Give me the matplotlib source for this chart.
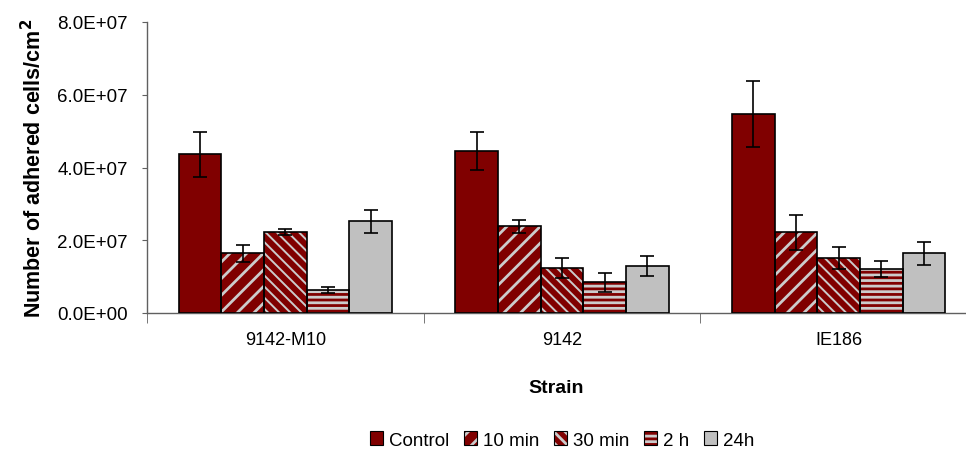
import matplotlib
matplotlib.use("Agg")
import matplotlib.pyplot as plt
import numpy as np
from matplotlib.patches import Patch

plt.rcParams['font.family'] = ['Liberation Sans', 'DejaVu Sans']
plt.rcParams['hatch.linewidth'] = 2.0

strains = ["9142-M10", "9142", "IE186"]
series = ["Control", "10 min", "30 min", "2 h", "24h"]
values = {
    "Control": [4.36e7, 4.45e7, 5.47e7],
    "10 min": [1.64e7, 2.39e7, 2.22e7],
    "30 min": [2.22e7, 1.24e7, 1.51e7],
    "2 h": [0.64e7, 0.85e7, 1.20e7],
    "24h": [2.52e7, 1.29e7, 1.64e7],
}
errors = {
    "Control": [0.62e7, 0.53e7, 0.91e7],
    "10 min": [0.23e7, 0.18e7, 0.48e7],
    "30 min": [0.08e7, 0.28e7, 0.31e7],
    "2 h": [0.08e7, 0.26e7, 0.22e7],
    "24h": [0.31e7, 0.27e7, 0.31e7],
}
yticks = [0, 2e7, 4e7, 6e7, 8e7]
ytick_labels = ["0.0E+00", "2.0E+07", "4.0E+07", "6.0E+07", "8.0E+07"]

dark = "#800000"
gray = "#C0C0C0"
styles = {
    "Control": (dark, None, 0),
    "10 min": (dark, "//", 2.0),
    "30 min": (dark, "\\\\\\", 1.4),
    "2 h": (dark, "---", 2.0),
    "24h": (gray, None, 0),
}

fig = plt.figure(figsize=(9.66, 4.56), dpi=100)
ax = fig.add_axes([147/966, 1-314/456, 1-147/966, (314-23)/456])

x = np.arange(len(strains))
n = len(series)
group_w = 0.77
w = group_w / n
for i, s in enumerate(series):
    pos = x - group_w/2 + w*(i+0.5)
    fc, hatch, hlw = styles[s]
    if hatch:
        bars = ax.bar(pos, values[s], w, color=fc, edgecolor="#CCCCCC", hatch=hatch, linewidth=0, zorder=2)
        for b in bars:
            if hasattr(b, "set_hatch_linewidth"):
                b.set_hatch_linewidth(hlw)
    else:
        ax.bar(pos, values[s], w, color=fc, linewidth=0, zorder=2)
    ax.bar(pos, values[s], w, fill=False, edgecolor="black", linewidth=1.2, zorder=3)
    ax.errorbar(pos, values[s], yerr=errors[s], fmt="none", ecolor="black",
                elinewidth=1.2, capsize=5, capthick=1.2, zorder=4)

ax.set_ylim(0, 8e7)
ax.set_xlim(-0.5, 2.5 - 11/276.5)
ax.set_yticks(yticks)
ax.set_yticklabels(ytick_labels, fontsize=13.5)
ax.tick_params(axis='y', length=3.6, color="#606060", pad=10)
ax.set_xticks(x)
ax.set_xticklabels(strains, fontsize=13)
ax.tick_params(axis='x', which='major', length=0, pad=13)
ax.set_xticks([-0.5, 0.5, 1.5], minor=True)
ax.tick_params(axis='x', which='minor', length=7, color="#606060")
for sp in ["top", "right"]:
    ax.spines[sp].set_visible(False)
for sp in ["left", "bottom"]:
    ax.spines[sp].set_color("#606060")
    ax.spines[sp].set_linewidth(1.0)

ax.set_ylabel("Number of adhered cells/cm$^\\mathbf{2}$", fontsize=15.5, fontweight="bold", labelpad=8)
ax.set_xlabel("Strain", fontsize=14, fontweight="bold", labelpad=22)

handles = []
for s in series:
    fc, hatch, hlw = styles[s]
    if hatch:
        hp = Patch(facecolor=fc, edgecolor="#CCCCCC", hatch=hatch, linewidth=0)
        if hasattr(hp, "set_hatch_linewidth"):
            hp.set_hatch_linewidth(1.2)
        op = Patch(fill=False, edgecolor="black", linewidth=0.8)
        handles.append((hp, op))
    else:
        handles.append(Patch(facecolor=fc, edgecolor="black", linewidth=0.8))
fig.legend(handles, series, loc="center", bbox_to_anchor=(562/966, 1-441/456), ncol=5,
           frameon=False, fontsize=13.5, handlelength=0.7, handleheight=0.7,
           handletextpad=0.3, columnspacing=0.8)

fig.savefig("out.png", dpi=100)
